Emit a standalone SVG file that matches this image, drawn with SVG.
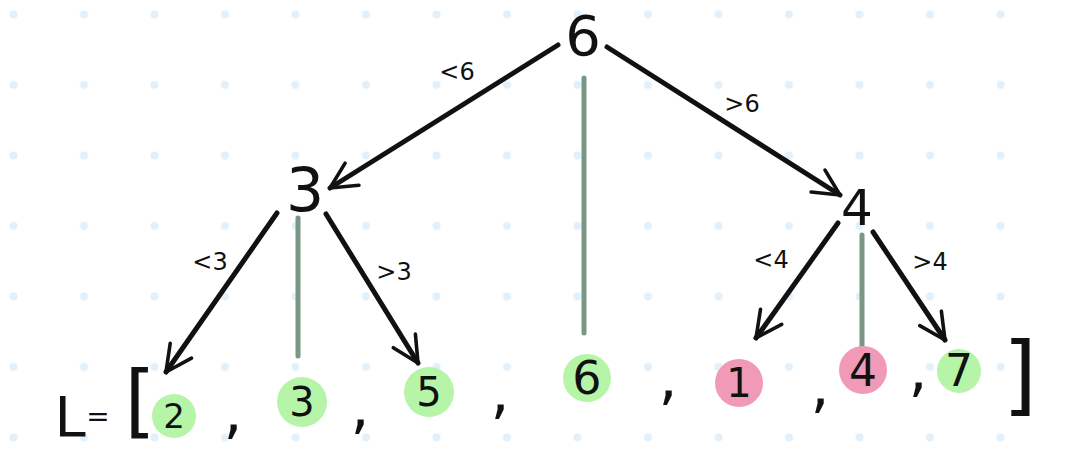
<svg xmlns="http://www.w3.org/2000/svg" width="1065" height="450" viewBox="0 0 1065 450">
<style>
.t{font-family:"DejaVu Sans","Liberation Sans",sans-serif;fill:#111;text-anchor:middle}
.lbl{font-family:"DejaVu Sans","Liberation Sans",sans-serif;font-size:24px;fill:#111;text-anchor:middle}
.arr{stroke:#111;stroke-width:5;fill:none;stroke-linecap:round;marker-end:url(#ah)}
.eq{stroke:#7a9684;stroke-width:5;fill:none;stroke-linecap:round}
.g{fill:#b6f4a8}
.p{fill:#f19ab7}
</style>
<defs>
<pattern id="dots" patternUnits="userSpaceOnUse" x="0" y="0" width="70.5" height="70.5">
<circle cx="13.5" cy="14.5" r="4" fill="#e1f0fa"/>
</pattern>
<marker id="ah" viewBox="0 0 10 10" refX="9" refY="5" markerWidth="6.5" markerHeight="6.5" orient="auto" markerUnits="strokeWidth">
<path d="M1,1 L9,5 L1,9" fill="none" stroke="#111" stroke-width="1.1" stroke-linecap="round" stroke-linejoin="round"/>
</marker>
</defs>
<rect width="1065" height="450" fill="#fff"/>
<rect width="1065" height="450" fill="url(#dots)"/>

<g id="connectors">
<path class="arr" d="M558,45 L330,188"/>
<path class="arr" d="M607,47 L840,195"/>
<path class="eq" d="M584,78 L584,333"/>
<path class="arr" d="M277,213 L166,372"/>
<path class="eq" d="M298,218 L298,356"/>
<path class="arr" d="M326,214 L418,363"/>
<path class="arr" d="M838,223 L756,338"/>
<path class="eq" d="M862,235 L862,346"/>
<path class="arr" d="M873,232 L945,340"/>
<text class="lbl" x="457" y="80">&lt;6</text>
<text class="lbl" x="742" y="112">&gt;6</text>
<text class="lbl" x="210" y="270">&lt;3</text>
<text class="lbl" x="394" y="280">&gt;3</text>
<text class="lbl" x="771" y="268">&lt;4</text>
<text class="lbl" x="930" y="270">&gt;4</text>
</g>

<g id="node-root"><text class="t" x="583" y="55" font-size="56">6</text></g>
<g id="node-3"><text class="t" x="305" y="211" font-size="60">3</text></g>
<g id="node-4"><text class="t" x="857" y="225" font-size="50">4</text></g>

<g id="list-prefix">
<text class="t" x="70" y="436" font-size="56">L</text>
<text class="t" x="98" y="426" font-size="28">=</text>
<text class="t" x="140" y="428" font-size="80">[</text>
</g>
<g id="item-2"><circle class="g" cx="174" cy="416" r="22"/><text class="t" x="174" y="428" font-size="34">2</text></g>
<g id="item-3"><circle class="g" cx="302" cy="402" r="25"/><text class="t" x="302" y="416" font-size="40">3</text></g>
<g id="item-5"><circle class="g" cx="429" cy="392" r="25"/><text class="t" x="429" y="406" font-size="40">5</text></g>
<g id="item-6"><circle class="g" cx="587" cy="378" r="24"/><text class="t" x="587" y="394" font-size="46">6</text></g>
<g id="item-1"><circle class="p" cx="739" cy="383" r="24"/><text class="t" x="739" y="397" font-size="40">1</text></g>
<g id="item-4"><circle class="p" cx="863" cy="370" r="24"/><text class="t" x="863" y="386" font-size="44">4</text></g>
<g id="item-7"><circle class="g" cx="959" cy="371" r="22"/><text class="t" x="959" y="386" font-size="44">7</text></g>
<g id="commas">
<text class="t" x="233" y="432" font-size="60">,</text>
<text class="t" x="360" y="427" font-size="60">,</text>
<text class="t" x="500" y="412" font-size="60">,</text>
<text class="t" x="668" y="398" font-size="60">,</text>
<text class="t" x="820" y="406" font-size="60">,</text>
<text class="t" x="918" y="390" font-size="60">,</text>
</g>
<g id="list-suffix"><text class="t" x="1020" y="404" font-size="88">]</text></g>
</svg>
